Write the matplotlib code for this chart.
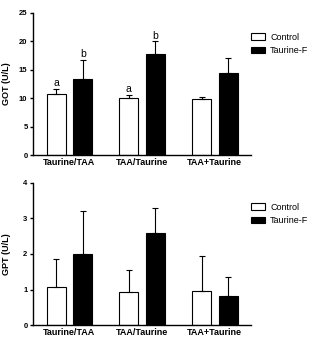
import matplotlib
matplotlib.use('Agg')
import matplotlib.pyplot as plt
import numpy as np

plt.rcParams['font.family'] = ['Liberation Sans', 'DejaVu Sans']

groups = ['Taurine/TAA', 'TAA/Taurine', 'TAA+Taurine']
series = ['Control', 'Taurine-F']

got_control = [10.7, 10.0, 9.9]
got_control_err = [1.0, 0.6, 0.3]
got_taurine = [13.3, 17.7, 14.5]
got_taurine_err = [3.5, 2.3, 2.6]
got_letters_control = ['a', 'a', '']
got_letters_taurine = ['b', 'b', '']

gpt_control = [1.07, 0.93, 0.97]
gpt_control_err = [0.78, 0.63, 0.96]
gpt_taurine = [2.0, 2.58, 0.83]
gpt_taurine_err = [1.21, 0.72, 0.52]

fig = plt.figure(figsize=(3.12, 3.4), dpi=100)
ax1 = fig.add_axes([0.106, 0.544, 0.699, 0.418])
ax2 = fig.add_axes([0.106, 0.044, 0.699, 0.418])

x = np.arange(len(groups))
off = 0.183
w = 0.26


def draw(ax, ctrl, cerr, taur, terr, ylim, yticks, ylabel):
    ek = dict(elinewidth=0.8, capsize=2.5, capthick=0.8, ecolor='black')
    ax.bar(x - off, ctrl, w, color='white', edgecolor='black', linewidth=0.8,
           yerr=[np.zeros(3), cerr], error_kw=ek, label=series[0], zorder=2)
    ax.bar(x + off, taur, w, color='black', edgecolor='black', linewidth=0.8,
           yerr=[np.zeros(3), terr], error_kw=ek, label=series[1], zorder=2)
    ax.set_xlim(-0.5, 2.5)
    ax.set_ylim(*ylim)
    ax.set_yticks(yticks)
    ax.set_xticks(x)
    ax.set_xticklabels(groups, fontsize=6.5, fontweight='bold')
    for lab in ax.get_yticklabels():
        lab.set_fontsize(5.5)
        lab.set_fontweight('bold')
    ax.set_ylabel(ylabel, fontsize=6.5, fontweight='bold')
    ax.yaxis.set_label_coords(-0.1, 0.5)
    ax.spines['top'].set_visible(False)
    ax.spines['right'].set_visible(False)
    for s in ['left', 'bottom']:
        ax.spines[s].set_linewidth(1.0)
    ax.tick_params(axis='both', direction='out', length=2.5, width=1.0, pad=1.5)
    ax.tick_params(axis='x', length=0, pad=2)
    ax.legend(loc='upper left', bbox_to_anchor=(1.0, 0.86), frameon=False,
              fontsize=6.5, handlelength=1.55, handleheight=0.7,
              handletextpad=0.55, labelspacing=0.45, borderaxespad=0,
              borderpad=0)


draw(ax1, got_control, got_control_err, got_taurine, got_taurine_err,
     (0, 25), [0, 5, 10, 15, 20, 25], 'GOT (U/L)')
draw(ax2, gpt_control, gpt_control_err, gpt_taurine, gpt_taurine_err,
     (0, 4), [0, 1, 2, 3, 4], 'GPT (U/L)')

for i in range(3):
    if got_letters_control[i]:
        ax1.annotate(got_letters_control[i], (x[i] - off, got_control[i] + got_control_err[i]),
                     xytext=(0, 0.3), textcoords='offset points', ha='center', va='bottom',
                     fontsize=7.5)
    if got_letters_taurine[i]:
        ax1.annotate(got_letters_taurine[i], (x[i] + off, got_taurine[i] + got_taurine_err[i]),
                     xytext=(0, 0.3), textcoords='offset points', ha='center', va='bottom',
                     fontsize=7.5)

fig.savefig('out.png', dpi=100)
